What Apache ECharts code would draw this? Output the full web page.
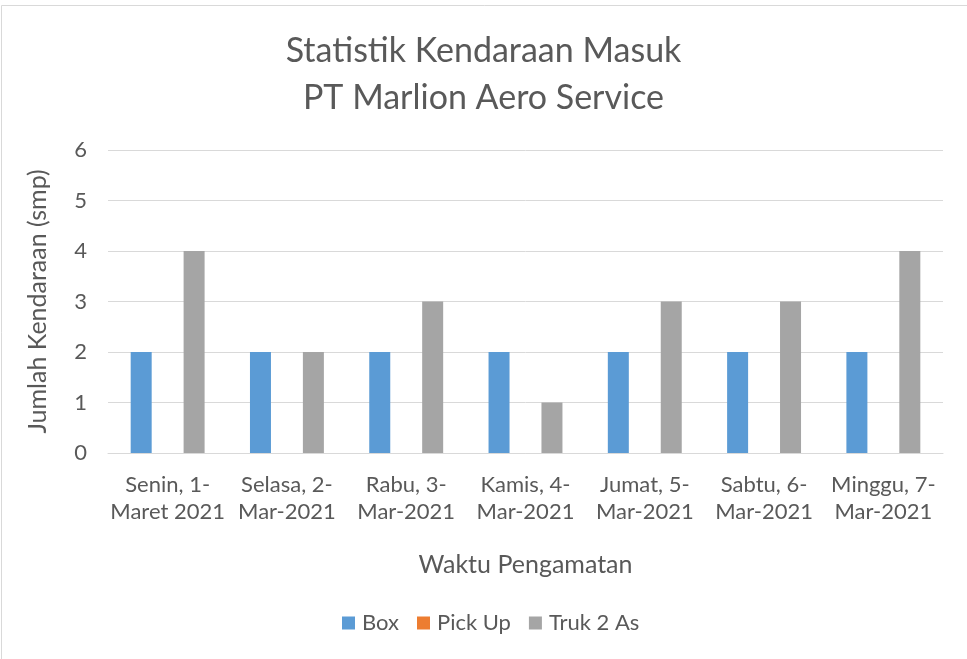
<!DOCTYPE html>
<html>
<head>
    <meta charset="utf-8">
    <title>Statistik Kendaraan Masuk</title>
    <script src="https://cdn.jsdelivr.net/npm/echarts@6/dist/echarts.min.js"></script>
    <style>
        html, body { margin: 0; padding: 0; background: #fff; }
        #chart { width: 967px; height: 659px; }
    </style>
</head>
<body>
<div id="chart"></div>
<script>
    // data
    var hari = ['Senin, 1-\nMaret 2021', 'Selasa, 2-\nMar-2021', 'Rabu, 3-\nMar-2021', 'Kamis, 4-\nMar-2021',
        'Jumat, 5-\nMar-2021', 'Sabtu, 6-\nMar-2021', 'Minggu, 7-\nMar-2021'];
    var box = [2, 2, 2, 2, 2, 2, 2];
    var pickUp = [0, 0, 0, 0, 0, 0, 0];
    var truk2As = [4, 2, 3, 1, 3, 3, 4];

    var font = 'Lato';
    var grey = '#595959';

    var myChart = echarts.init(document.getElementById('chart'));
    var option = {
        animation: false,
        color: ['#5b9bd5', '#ed7d31', '#a5a5a5'],
        title: {
            text: 'Statistik Kendaraan Masuk\nPT Marlion Aero Service',
            left: 'center',
            top: 23,
            textStyle: { fontFamily: font, fontSize: 34, fontWeight: 'normal', color: grey, lineHeight: 47 }
        },
        legend: {
            bottom: 20,
            left: 337,
            itemWidth: 13,
            itemHeight: 13,
            itemGap: 18,
            icon: 'rect',
            textStyle: { fontFamily: font, fontSize: 22, color: grey, padding: [0, 0, 0, 2] },
            data: ['Box', 'Pick Up', 'Truk 2 As']
        },
        grid: { left: 108, right: 24, top: 150, bottom: 206 },
        xAxis: {
            type: 'category',
            data: hari,
            name: 'Waktu Pengamatan',
            nameLocation: 'middle',
            nameGap: 99,
            nameTextStyle: { fontFamily: font, fontSize: 25, color: grey },
            axisLine: { lineStyle: { color: '#d9d9d9', width: 1 } },
            axisTick: { show: false },
            axisLabel: { fontFamily: font, fontSize: 22, color: grey, lineHeight: 27, margin: 18, interval: 0 }
        },
        yAxis: {
            type: 'value',
            min: 0,
            max: 6,
            interval: 1,
            name: 'Jumlah Kendaraan (smp)',
            nameLocation: 'middle',
            nameRotate: 90,
            nameGap: 58,
            nameTextStyle: { fontFamily: font, fontSize: 25, color: grey },
            axisLine: { show: false },
            axisTick: { show: false },
            axisLabel: { fontFamily: font, fontSize: 22, color: grey, margin: 21 },
            splitLine: { lineStyle: { color: '#d9d9d9', width: 1 } }
        },
        series: [
            { name: 'Box', type: 'bar', data: box, barWidth: 21, barGap: '26%' },
            { name: 'Pick Up', type: 'bar', data: pickUp, barWidth: 21, barGap: '26%' },
            { name: 'Truk 2 As', type: 'bar', data: truk2As, barWidth: 21, barGap: '26%' }
        ],
        graphic: [
            { type: 'line', shape: { x1: 1.5, y1: 5.5, x2: 967, y2: 5.5 }, style: { stroke: '#d9d9d9', lineWidth: 1 } },
            { type: 'line', shape: { x1: 1.5, y1: 5.5, x2: 1.5, y2: 659 }, style: { stroke: '#d9d9d9', lineWidth: 1 } }
        ]
    };
    myChart.setOption(option);
</script>
</body>
</html>
